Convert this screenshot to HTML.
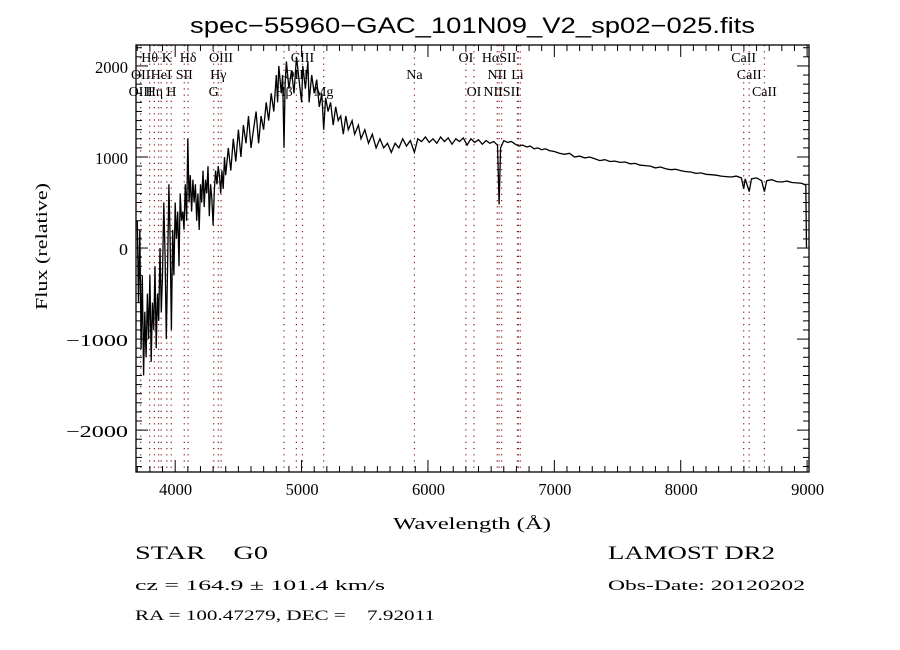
<!DOCTYPE html>
<html><head><meta charset="utf-8">
<style>
html,body{margin:0;padding:0;background:#fff;}
svg{display:block;}
text{font-family:"Liberation Serif",serif;fill:#000;}
</style></head>
<body>
<svg id="chart" width="900" height="650" viewBox="0 0 900 650">
<text x="190" y="33" font-size="22" textLength="565" lengthAdjust="spacingAndGlyphs" style="font-family:'Liberation Sans',sans-serif">spec−55960−GAC_101N09_V2_sp02−025.fits</text>
<text x="393" y="529" font-size="17" textLength="158" lengthAdjust="spacingAndGlyphs">Wavelength (Å)</text>
<text transform="translate(47,310) rotate(-90)" font-size="17" textLength="127" lengthAdjust="spacingAndGlyphs">Flux (relative)</text>
<text x="135" y="559" font-size="19" textLength="133" lengthAdjust="spacingAndGlyphs" xml:space="preserve">STAR    G0</text>
<text x="608" y="559" font-size="19" textLength="167" lengthAdjust="spacingAndGlyphs">LAMOST DR2</text>
<text x="135" y="590" font-size="15" textLength="250" lengthAdjust="spacingAndGlyphs">cz = 164.9 ± 101.4 km/s</text>
<text x="608" y="590" font-size="15" textLength="197" lengthAdjust="spacingAndGlyphs">Obs-Date: 20120202</text>
<text x="135" y="620" font-size="15" textLength="300" lengthAdjust="spacingAndGlyphs" xml:space="preserve">RA = 100.47279, DEC =    7.92011</text>
<g id="lines"></g>
<g id="series"></g>
<g id="axes"></g>
</svg>
<script>
const wl=[3700,3710,3720,3730,3740,3750,3760,3770,3780,3790,3800,3810,3820,3830,3840,3850,3860,3870,3880,3890,3900,3910,3920,3930,3940,3950,3960,3970,3980,3990,4000,4010,4020,4030,4040,4050,4060,4070,4080,4090,4100,4110,4120,4130,4140,4150,4160,4170,4180,4190,4200,4210,4220,4230,4240,4250,4260,4270,4280,4290,4300,4310,4320,4330,4340,4350,4360,4370,4380,4390,4400,4420,4440,4460,4480,4500,4520,4540,4560,4580,4600,4620,4640,4660,4680,4700,4720,4740,4760,4780,4800,4810,4820,4840,4850,4861,4870,4880,4900,4920,4940,4960,4980,5000,5010,5030,5050,5060,5080,5100,5120,5140,5160,5175,5190,5210,5230,5250,5270,5290,5310,5330,5350,5370,5400,5420,5450,5470,5500,5530,5560,5590,5620,5650,5680,5710,5740,5770,5800,5830,5860,5893,5920,5950,5980,6010,6040,6070,6100,6130,6160,6190,6220,6250,6280,6310,6340,6370,6400,6430,6460,6490,6520,6550,6563,6575,6600,6630,6660,6690,6720,6750,6780,6810,6840,6870,6900,6930,6960,7000,7040,7080,7120,7160,7200,7240,7280,7320,7360,7400,7440,7480,7520,7560,7600,7640,7680,7720,7760,7800,7840,7880,7920,7960,8000,8040,8080,8120,8160,8200,8240,8280,8320,8360,8400,8440,8480,8498,8510,8542,8560,8600,8640,8662,8680,8720,8760,8800,8840,8880,8920,8960,8990,8995,9000];
const flux=[300,-600,200,-1100,-300,-1400,-700,-1200,-500,-1000,-300,-1250,-600,-900,-200,-1100,-500,-800,0,-700,-300,500,-100,-1000,-200,700,100,-900,200,-300,500,100,400,-200,600,300,400,200,700,300,1200,500,800,400,750,500,700,300,600,200,700,500,850,450,750,600,900,350,700,550,250,650,850,700,900,800,600,850,650,1000,800,1100,850,1200,950,1300,1000,1350,1150,1450,1100,1300,1500,1150,1450,1300,1600,1400,1700,1500,1900,1600,2000,1700,1900,1100,1800,2050,1750,1950,1700,2100,1850,1600,2000,1750,2050,1600,1900,1700,1850,1550,1700,1300,1650,1500,1600,1350,1550,1400,1450,1250,1450,1300,1400,1250,1350,1200,1300,1150,1250,1100,1200,1100,1150,1050,1150,1100,1200,1120,1180,1050,1200,1170,1220,1160,1200,1150,1220,1170,1210,1140,1200,1170,1210,1130,1200,1160,1190,1140,1180,1150,1170,1130,480,1100,1180,1160,1170,1140,1120,1130,1110,1120,1090,1100,1080,1090,1070,1060,1040,1030,1040,1000,1010,990,1000,980,960,970,950,955,940,945,925,930,910,905,900,880,890,870,860,865,850,840,835,820,825,810,805,800,790,785,780,790,770,650,760,620,760,770,740,620,740,750,730,725,735,720,715,710,690,0,0];
const lineWl=[3727,3798,3835,3869,3889,3934,3969,4072,4102,4305,4341,4363,4861,4959,5007,5175,5893,6300,6364,6548,6563,6583,6708,6716,6731,8498,8542,8662];
const labTxt=["Hθ","K","Hδ","OIII","CIII","OI","HαSII","CaII","OII","HeI","SII","Hγ","OIII","Na","NII","Li","CaII","OIII","Hη","H","G","Hβ","Mg","OI","NIISII","CaII"];
const labWl=[3798,3934,4102,4363,5007,6300,6563,8498,3727,3889,4072,4341,4959,5893,6548,6708,8542,3727,3835,3969,4305,4861,5175,6364,6583,8662];
const labRow=[0,0,0,0,0,0,0,0,1,1,1,1,1,1,1,1,1,2,2,2,2,2,2,2,2,2];
const xTicks=[4000,5000,6000,7000,8000,9000];
const yTicks=[-2000,-1000,0,1000,2000];
const L=136,R=809,T=45,B=472,XMIN=3690,XMAX=9015,YMIN=-2460,YMAX=2230;
const X=w=>L+(w-XMIN)/(XMAX-XMIN)*(R-L);
const Y=f=>B-(f-YMIN)/(YMAX-YMIN)*(B-T);
const NS="http://www.w3.org/2000/svg";
function mk(tag,attrs,parent){const e=document.createElementNS(NS,tag);for(const k in attrs)e.setAttribute(k,attrs[k]);parent.appendChild(e);return e;}
const gl=document.getElementById('lines'),gs=document.getElementById('series'),ga=document.getElementById('axes');
lineWl.forEach(w=>{const e=mk('line',{x1:X(w),x2:X(w),y1:T,y2:B,stroke:'#8b1a1a','stroke-width':1.2,'stroke-dasharray':'1.2 5'},gl);

});
labTxt.forEach((t,i)=>{const e=mk('text',{x:X(labWl[i]),y:62+labRow[i]*17,'font-size':14,'text-anchor':'middle'},gl);e.textContent=t;

});
const p=mk('polyline',{points:wl.map((w,i)=>X(w).toFixed(1)+','+Y(flux[i]).toFixed(1)).join(' '),fill:'none',stroke:'#000','stroke-width':1.3,'stroke-linejoin':'miter'},gs);


const fr=mk('rect',{x:L,y:T,width:R-L,height:B-T,fill:'none',stroke:'#000','stroke-width':1.3},ga);


for(let w=3700;w<=XMAX;w+=100){const maj=w%1000===0,len=maj?12:6;
mk('line',{x1:X(w),x2:X(w),y1:B,y2:B-len,stroke:'#000'},ga);mk('line',{x1:X(w),x2:X(w),y1:T,y2:T+len,stroke:'#000'},ga);}
for(let f=-2400;f<=YMAX;f+=100){const maj=f%1000===0,len=maj?12:6;
mk('line',{x1:L,x2:L+len,y1:Y(f),y2:Y(f),stroke:'#000'},ga);mk('line',{x1:R,x2:R-len,y1:Y(f),y2:Y(f),stroke:'#000'},ga);}
xTicks.forEach(v=>{const e=mk('text',{x:X(v)-16,y:B+23,'font-size':17,textLength:33,lengthAdjust:'spacingAndGlyphs'},ga);e.textContent=v;

});
yTicks.forEach(v=>{const s=v<0?'−'+(-v):String(v);const w=v===0?9:(v<0?62:33);
const e=mk('text',{x:L-8-w,y:Y(v)+7,'font-size':17,textLength:w,lengthAdjust:'spacingAndGlyphs'},ga);e.textContent=s;

});
</script>
</body></html>
